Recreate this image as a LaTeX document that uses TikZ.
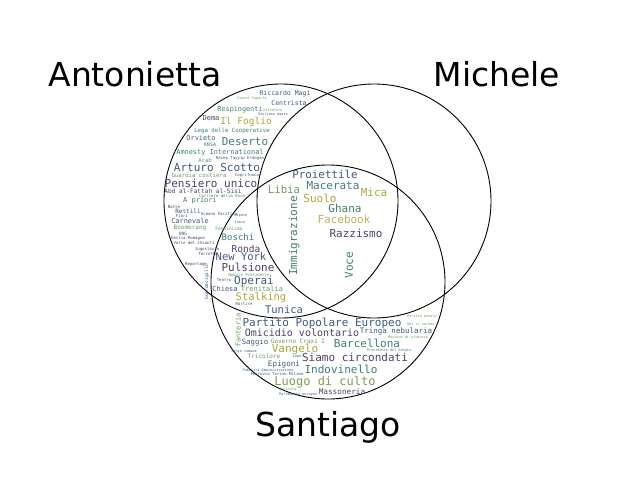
\documentclass[tikz,border=0pt]{standalone}
\usepackage{fontspec}
\setmainfont{DejaVu Sans}
\newfontfamily\wcfont{DejaVu Sans Mono}
\definecolor{wpur}{HTML}{4E4068}
\definecolor{wsla}{HTML}{3E5A78}
\definecolor{wtea}{HTML}{3F7F72}
\definecolor{wgre}{HTML}{6A9A5C}
\definecolor{woli}{HTML}{A8A83C}
\begin{document}
\begin{tikzpicture}[x=1pt,y=-1pt,
  set/.style={draw=black,line width=0.9pt},
  setname/.style={font=\fontsize{33}{33}\selectfont,inner sep=0pt},
  wc/.style={font=\wcfont\fontsize{#1}{#1}\selectfont,inner sep=0pt}]
\useasboundingbox (0,0) rectangle (640,480);
% the three sets
\draw[set] (281,201) circle (117);
\draw[set] (374,201) circle (117);
\draw[set] (328,282) circle (117);
\node[setname] (anto) at (135,74) {Antonietta};
\node[setname] (mich) at (497,74) {Michele};
\node[setname] (sant) at (328,427) {Santiago};
% Antonietta only
\node[wc=6.5,wsla] (magi) at (285,94) {Riccardo Magi};
\node[wc=3.5,wgre] (cuperlo) at (252,99) {Gianni Cuperlo};
\node[wc=6.5,wsla] (centr) at (289,103) {Centrista};
\node[wc=6.8,wtea] (respi) at (240,110) {Respingenti};
\node[wc=3.5,wgre] (ditta) at (273,110) {Dittatore};
\node[wc=3.5,wsla] (amato) at (273,114) {Giuliano Amato};
\node[wc=7,wpur] (dema) at (211,118) {Dema};
\node[wc=9.5,woli] (foglio) at (246,122) {Il Foglio};
\node[wc=5.7,wtea] (lega) at (232,131) {Lega delle Cooperative};
\node[wc=6.9,wsla] (orvieto) at (201,138) {Orvieto};
\node[wc=5,wtea] (ansa) at (210,145) {ANSA};
\node[wc=11,wtea] (deserto) at (245,142) {Deserto};
\node[wc=6.9,wtea] (amnesty) at (220,153) {Amnesty International};
\node[wc=4,wsla] (erdogan) at (240,158) {Recep Tayyip Erdogan};
\node[wc=5.5,wgre] (acab) at (205,160) {Acab};
\node[wc=11,wsla] (scotto) at (217,167) {Arturo Scotto};
\node[wc=5.7,wgre] (guardia) at (199,175.5) {Guardia costiera};
\node[wc=4,wsla] (copri) at (247,175) {Coprifuoco};
\node[wc=11,wpur] (pensiero) at (211,183.5) {Pensiero unico};
\node[wc=6.1,wpur] (sisi) at (203,191) {Abd al-Fattah al-Sisi};
\node[wc=4,wtea] (corriere) at (222,196) {Corriere della Sera};
\node[wc=7,wtea] (apriori) at (200,201) {A priori};
\node[wc=4,wpur] (notte) at (174,207) {Notte};
\node[wc=6,wsla] (rettili) at (188,211.5) {Rettili};
\node[wc=4,wsla] (oceano) at (219,214) {Oceano Pacifico};
\node[wc=4,wsla] (fiori) at (182,216) {Fiori};
\node[wc=3.5,wsla] (nipote) at (241,216) {Nipote};
\node[wc=3.5,wsla] (fuoco) at (240,222) {Fuoco};
\node[wc=6.9,wsla] (carne) at (190,221) {Carnevale};
\node[wc=6,wgre] (boom) at (190,228) {Boomerang};
\node[wc=4.5,wsla] (ong) at (183,233.5) {ONG};
\node[wc=4,wpur] (emilia) at (188,238) {Emilia-Romagna};
\node[wc=4,wpur] (chianti) at (194,243) {Valle del Chianti};
\node[wc=4,wpur] (jugo) at (207,249) {Jugoslavia};
\node[wc=4,wpur] (torretta) at (208,254) {Torretta};
\node[wc=4,wpur] (report) at (196,264) {Reportage};
\node[wc=4.5,wsla,rotate=90] (sigilli) at (207,282) {Guardasigilli};
% Antonietta and Santiago
\node[wc=4.5,wgre] (femm) at (229,229) {Femminismo};
\node[wc=9,wtea] (boschi) at (238,237) {Boschi};
\node[wc=9.5,wpur] (ronda) at (246,249) {Ronda};
\node[wc=10.5,wsla] (newyork) at (241,257) {New York};
\node[wc=11,wpur] (pulsione) at (248,267.5) {Pulsione};
\node[wc=4,wgre] (nobile) at (249,274.5) {Nobile Presidente};
\node[wc=4,wsla] (teatro) at (224,280) {Teatro};
\node[wc=11,wsla] (operai) at (254,281.5) {Operai};
\node[wc=7,wsla] (chiesa) at (225,289) {Chiesa};
\node[wc=7,wgre] (treni) at (262,289) {Trenitalia};
\node[wc=10.5,woli] (stalk) at (261,298) {Stalking};
\node[wc=4,wsla] (martire) at (244,304.5) {Martire};
\node[wc=10.5,wsla] (tunica) at (284,309.5) {Tunica};
% all three
\node[wc=10.8,wsla] (proiet) at (325,174) {Proiettile};
\node[wc=11,wtea] (macerata) at (333,186) {Macerata};
\node[wc=10.7,wgre] (libia) at (284,190) {Libia};
\node[wc=11,woli] (mica) at (374,192) {Mica};
\node[wc=11,woli] (suolo) at (320,198) {Suolo};
\node[wc=11,wtea] (ghana) at (345,208) {Ghana};
\node[wc=11,woli!85] (face) at (344,219) {Facebook};
\node[wc=11,wpur] (razz) at (356,233) {Razzismo};
\node[wc=11,wtea,rotate=90] (immi) at (294,236) {Immigrazione};
\node[wc=11,wtea,rotate=90] (voce) at (349,265) {Voce};
% Santiago only
\node[wc=7,wgre,rotate=90] (fanteria) at (238,330) {Fanteria};
\node[wc=11,wsla] (ppe) at (322,323) {Partito Popolare Europeo};
\node[wc=3.5,wgre] (diritto) at (422,317) {Diritto penale};
\node[wc=3.5,wgre] (saremo) at (421,324) {Noi ci saremo};
\node[wc=10,wpur] (omicidio) at (302,333) {Omicidio volontario};
\node[wc=7.5,wsla] (tringa) at (396,331) {Tringa nebularia};
\node[wc=3.5,wgre] (mozione) at (408,337.5) {Mozione di sfiducia};
\node[wc=6,wgre] (craxi) at (298,341) {Governo Craxi I};
\node[wc=7.3,wsla] (saggio) at (255,343) {Saggio};
\node[wc=11,woli] (vangelo) at (295,349.5) {Vangelo};
\node[wc=11,wtea] (barca) at (367,343) {Barcellona};
\node[wc=3.5,wtea] (senato) at (389,350) {Presidente del Senato};
\node[wc=3.5,wsla] (senso) at (244,351) {Senso comune};
\node[wc=6,wgre] (trico) at (264,356.5) {Tricolore};
\node[wc=3.5,wsla] (lapo) at (297,357) {Lapo};
\node[wc=11,wpur] (siamo) at (355,357) {Siamo circondati};
\node[wc=7.6,wsla] (epigoni) at (284,364) {Epigoni};
\node[wc=11,wtea] (indovin) at (341,369) {Indovinello};
\node[wc=3.5,wsla] (pubblica) at (268,370) {Pubblica Amministrazione};
\node[wc=4,wsla] (ferrovia) at (277,374) {Ferrovia Torino-Milano};
\node[wc=12,wgre!70!woli] (luogo) at (325,382) {Luogo di culto};
\node[wc=3.5,wgre] (epist) at (288,389.5) {Epistola};
\node[wc=7.7,wpur] (masso) at (342,391.5) {Massoneria};
\node[wc=3.5,wsla] (parla) at (298,394.5) {Parlamento europeo};
\end{tikzpicture}
\end{document}
